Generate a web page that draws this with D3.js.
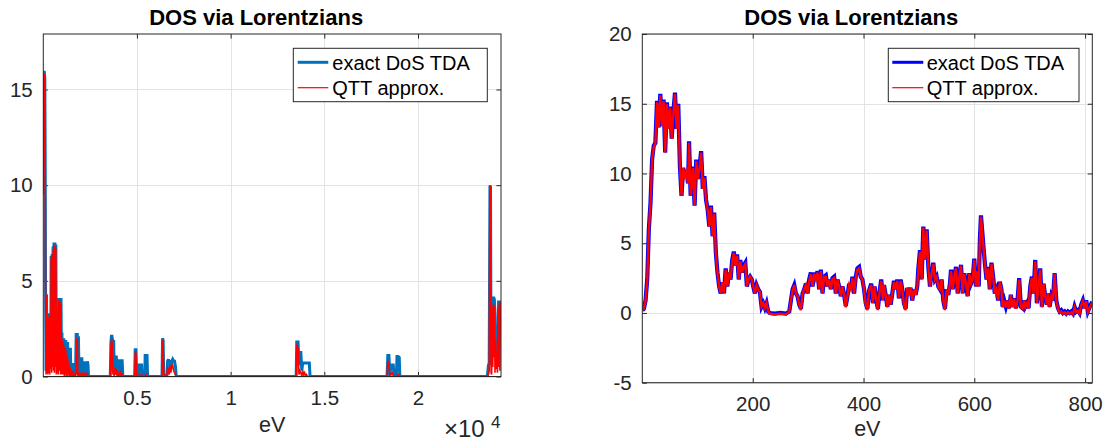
<!DOCTYPE html>
<html><head><meta charset="utf-8">
<script src="https://cdn.jsdelivr.net/npm/d3@7"></script>
<style>
body{margin:0;background:#fff}
svg{display:block}
text{font-family:"Liberation Sans",Arial,Helvetica,sans-serif}
</style>
</head><body>
<svg id="c" width="1111" height="441"></svg>
<script>
// ---------- DATA ----------
const chartTitle = "DOS via Lorentzians";
const xLabel = "eV";
const seriesNames = ["exact DoS TDA", "QTT approx."];

// Left panel (full energy range, eV)
const leftEnergy = [
  5,15,30,60,85,105,125,150,175,200,
  225,250,275,300,325,350,375,400,425,450,
  475,500,525,550,575,600,625,650,675,700,
  725,750,775,800,830,860,890,920,950,975,
  1000,1025,1050,1075,1100,1125,1150,1175,1200,1225,
  1250,1275,1300,1325,1350,1375,1400,1425,1450,1475,
  1500,1525,1550,1575,1600,1625,1650,1675,1700,1725,
  1760,1790,1820,1850,1880,1910,1950,1975,2000,2025,
  2060,2090,2120,2150,2180,2210,2240,2270,2300,2330,
  2360,2390,2420,2450,3560,
  3580,3610,3640,3670,3700,3730,3760,3790,3830,3860,
  3900,3940,3970,4010,4050,4090,4130,4170,4210,4250,
  4880,4910,4950,4990,5100,5130,5190,5250,5280,5420,
  5440,5490,5540,5570,
  6340,6370,6400,6430,6600,6640,6680,6720,6760,6810,
  6860,6910,6960,7010,7060,7100,
  13500,13530,13600,13650,13700,13750,13800,13850,13900,13950,
  14000,14050,14100,14150,14200,14240,
  18350,18390,18450,18500,18560,18620,18680,18730,18850,18880,
  18940,19000,19030,
  23700,23760,23800,23840,23870,23900,23930,23960,23990,24020,
  24050,24080,24110,24140,24170,24200,24240,24270,24300,24340,
  24370,24400,24430
];
const leftExact = [
  9.7,11.0,15.9,15.9,15.6,11.7,4.6,0.3,4.3,0.5,
  3.3,0.6,3.2,0.4,3.3,0.8,3.3,1.2,6.3,0.8,
  6.4,1.5,6.8,1.0,7.0,0.9,7.0,1.4,6.9,0.7,
  3.8,1.0,3.8,0.6,4.1,1.1,4.1,0.7,4.1,0.5,
  2.3,0.6,2.0,0.4,2.0,0.5,1.9,0.4,1.9,0.5,
  1.8,0.3,1.8,0.4,1.5,0.3,1.5,0.2,1.5,0.1,
  0.7,0.1,0.7,0.0,0.7,0.1,0.7,0.0,0.7,0.1,
  2.2,2.2,2.2,0.3,2.1,0.1,1.0,0.0,1.0,0.1,
  1.0,0.0,0.8,0.1,0.8,0.0,0.8,0.1,0.8,0.0,
  0.8,0.6,0.0,0,0,
  0,1.7,2.1,2.1,1.9,0.3,1.9,0.15,1.1,0.3,
  1.1,0.2,0.9,0.1,0.9,0.2,0.9,0.1,0.9,0,
  0,1.4,1.4,0.05,0,0.6,0.6,0.6,0,0,
  1.1,1.1,1.1,0,
  0,2.0,1.9,0.1,0,0.8,0.9,0.6,0.85,0.5,
  0.8,0.9,0.8,0.8,0.5,0,
  0,1.8,1.8,0.6,1.25,1.25,0.3,0.7,0.7,0.7,
  0.7,0.7,0.7,0.7,0.7,0,
  0,1.1,1.1,0.05,0.6,0.6,0.6,0,0,1.05,
  1.05,1.0,0,
  0,0.6,0.7,9.9,9.9,0.6,0.8,4.1,4.1,4.1,
  4.1,4.0,2.0,2.2,2.2,2.2,1.0,3.2,3.9,3.9,
  3.9,3.9,3.9
];
const leftQTT = [
  9.5,11.0,15.8,15.8,15.6,11.7,4.5,0.1,4.2,0.2,
  3.0,0.1,3.1,0.2,3.2,0.1,3.2,0.4,6.2,0.2,
  6.3,0.5,6.6,0.3,6.9,0.2,6.8,0.5,6.7,0.1,
  3.6,0.2,3.4,0.1,4.0,0.3,3.9,0.1,3.8,0.1,
  2.0,0.1,1.8,0.1,1.6,0.0,1.5,0.1,1.4,0.0,
  1.2,0.0,1.0,0.1,0.8,0.0,0.6,0.0,0.5,0.0,
  0.3,0.0,0.2,0.0,0.3,0.0,0.2,0.0,0.2,0.0,
  0.2,2.0,1.9,0.0,0.2,0.0,0.2,0.0,0.1,0.0,
  0.2,0.0,0.1,0.0,0.2,0.0,0.1,0.0,0.1,0.0,
  0.1,0.0,0.0,0,0,
  0,1.5,1.9,1.9,0.4,0.1,0.2,0,0.5,0.1,
  0.4,0,0.3,0,0.2,0,0.3,0,0.1,0,
  0,1.3,1.2,0,0,0.1,0.05,0.1,0,0,
  0.05,0.1,0.05,0,
  0,1.9,1.8,0.1,0,0.5,0.3,0.1,0.6,0.2,
  0.5,0.6,0.3,0.2,0.1,0,
  0,1.6,1.5,0.1,0.3,0.2,0,0.3,0.1,0.2,
  0,0.1,0,0,0,0,
  0,0.8,0.7,0,0.1,0.2,0.05,0,0,0.05,
  0.1,0.05,0,
  0,0.1,0.3,10.0,9.9,0.2,0.1,3.6,0.5,3.8,
  1.0,3.7,0.2,2.0,0.4,1.2,0.2,3.6,0.5,3.8,
  0.3,3.8,3.9
];
const leftXTicks = [5000, 10000, 15000, 20000];
const leftXTickLabels = ["0.5", "1", "1.5", "2"];
const leftYTicks = [0, 5, 10, 15];
const leftXDomain = [5, 24430];
const leftYDomain = [0, 17.9];

// Right panel (zoom 0-813 eV)
const rightEnergy = [
  0.7,3.5,6.6,9.6,12.5,15.5,18.4,21.4,24.3,27.3,
  30.2,33.2,36.1,39.1,42,45,47.9,50.9,53.8,56.8,
  59.7,62.7,65.6,68.6,71.5,74.5,77.4,80.4,83.3,85.1,
  88,92.2,95.1,98.1,101,104,106.9,109.9,112.8,115.8,
  118.7,121.7,124.6,127.6,130.5,133.5,136.4,139.4,142.3,145.3,
  148.2,151.2,154.1,157.1,160,163,165.9,168.9,171.8,174.8,
  177.7,180.7,183.6,186.6,189.5,192.5,195.4,198.4,201,204,
  207,210,213,216,219,222,225,228,231,240,
  250,260,266,269,272,275,278,281,284,287,
  290,293,296,299,302,305,308,311,314,317,
  320,323,326,329,332,335,338,341,344,347,
  350,353,356,359,362,365,368,371,374,377,
  380,383,386,389,392,395,398,401,404,407,
  410,414,417,420,423,426,429,432,435,437,
  440,443,446,449,452,455,458,461,464,467,
  470,473,476,479,482,485,488,491,494,497,
  499,502,505,508,511,514,517,520,523,526,
  529,532,535,538,541,544,547,550,553,556,
  558,561,564,567,570,573,576,579,582,585,
  588,591,594,597,600,603,606,608,610,612,
  614,616,619,622,625,628,631,634,637,640,
  643,646,649,651,654,657,660,663,666,669,
  672,675,678,681,684,687,690,692,695,698,
  701,704,707,710,713,716,719,722,725,728,
  731,733,736,739,742,745,748,751,754,757,
  760,763,766,769,772,775,778,781,784,787,
  790,793,796,799,802,805,809,813
];
const rightExact = [
  0.2,0.3,0.9,2.4,6.0,7.9,11.0,12.0,12.2,15.2,
  13.3,15.7,13.4,15.3,11.5,15.1,13.2,14.8,12.5,14.4,
  15.8,13.2,15.0,10.5,8.4,10.4,9.8,10.2,9.3,12.3,
  8.4,10.5,7.7,11.0,9.6,10.5,11.6,8.9,9.8,8.1,
  7.4,6.2,7.7,5.5,7.2,4.3,2.9,1.9,1.4,2.2,
  1.4,3.2,1.9,2.9,2.4,3.8,4.4,3.4,4.2,2.4,
  3.8,2.9,3.4,3.6,1.9,2.4,2.6,2.4,1.9,1.4,
  2.0,1.7,1.5,0.45,0.7,0.35,0.7,0.1,0,-0.05,
  0,-0.05,0.1,0.9,1.7,2.0,1.4,1.2,0.6,0.3,
  1.4,1.7,2.1,1.4,2.4,2.9,1.9,2.9,2.4,3.0,
  1.7,3.1,1.4,2.6,2.7,1.9,2.4,1.7,2.5,2.6,
  1.4,2.4,1.9,1.2,1.9,1.3,0.5,1.2,2.1,1.7,
  2.6,1.4,2.6,3.2,3.3,2.6,2.4,1.7,0.7,0.3,
  1.6,2.1,0.7,1.9,0.9,0.3,1.5,2.4,0.9,2.0,
  1.3,0.45,1.3,0.6,1.4,2.3,1.7,2.4,1.05,2.4,
  1.7,0.7,0.3,1.8,1.3,1.8,0.9,1.7,1.3,1.9,
  3.2,4.5,2.4,6.2,3.8,6.0,3.3,1.9,2.85,3.6,
  2.4,2.6,1.9,1.7,2.4,0.9,0.3,1.7,1.3,2.1,
  3.1,1.7,2.6,3.3,1.4,2.6,3.45,1.4,2.85,2.1,
  1.2,2.85,2.1,2.4,3.9,1.9,3.1,1.9,5.2,7.0,
  6.0,5.0,3.6,2.4,3.3,1.7,3.6,2.6,1.4,1.7,
  0.9,2.25,1.7,0.45,0.9,0.45,0.9,0.35,1.3,0.45,
  1.05,0.35,0.9,2.5,0.45,0.35,0.9,0.45,0.7,0.35,
  1.9,2.6,1.4,3.8,0.7,1.9,3.2,0.45,2.1,1.2,
  0.6,1.4,0.45,1.2,0.9,2.85,0.9,0.35,0.1,0.2,
  0,0.1,-0.05,0.1,0,0.1,-0.05,0.45,0.1,0.2,
  0,0.6,0.9,0.35,0.9,0.1,0.5,0.8
];
const rightQTT = [
  0.2,0.3,0.9,2.3,5.9,7.9,11.0,11.9,12.2,15.1,
  13.3,15.6,13.4,15.2,11.5,15.0,13.2,14.7,12.5,14.3,
  15.7,13.2,14.9,10.5,8.4,10.4,9.8,10.1,9.3,12.2,
  8.4,10.4,7.7,10.9,9.6,10.4,11.5,8.9,9.7,8.1,
  7.4,6.2,7.6,5.5,7.1,4.3,2.9,1.9,1.4,2.2,
  1.4,3.1,1.9,2.9,2.4,3.7,4.3,3.4,4.1,2.4,
  3.7,2.9,3.3,3.5,1.9,2.4,2.6,2.4,1.9,1.4,
  2.0,1.7,1.5,0.45,0.7,0.35,0.7,0.1,-0.05,-0.1,
  -0.05,-0.1,0.1,0.9,1.6,2.0,1.4,1.2,0.6,0.2,
  1.4,1.7,2.0,1.4,2.3,2.8,1.9,2.8,2.4,2.9,
  1.7,3.0,1.4,2.6,2.6,1.9,2.4,1.7,2.4,2.5,
  1.4,2.4,1.9,1.2,1.9,1.3,0.4,1.2,2.0,1.7,
  2.5,1.4,2.5,3.1,3.2,2.6,2.4,1.7,0.6,0.2,
  1.6,2.0,0.7,1.9,0.9,0.2,1.5,2.3,0.9,2.0,
  1.3,0.4,1.3,0.6,1.4,2.2,1.7,2.3,1.05,2.3,
  1.7,0.6,0.2,1.8,1.3,1.8,0.9,1.7,1.3,1.9,
  3.1,4.4,2.4,6.1,3.8,5.9,3.3,1.9,2.8,3.5,
  2.4,2.6,1.9,1.7,2.4,0.9,0.2,1.7,1.3,2.1,
  3.0,1.7,2.6,3.2,1.4,2.6,3.4,1.4,2.8,2.1,
  1.2,2.8,2.1,2.4,3.8,1.9,3.0,1.9,5.1,6.9,
  5.9,5.0,3.6,2.4,3.2,1.7,3.5,2.6,1.4,1.7,
  0.9,2.2,1.7,0.4,0.9,0.4,0.9,0.3,1.3,0.4,
  1.0,0.3,0.9,2.4,0.4,0.3,0.9,0.4,0.7,0.3,
  1.9,2.5,1.4,3.7,0.7,1.9,3.1,0.4,2.1,1.2,
  0.6,1.4,0.4,1.2,0.9,2.8,0.9,0.3,0.05,0.1,
  -0.05,0.05,-0.1,0.05,-0.05,0.05,-0.1,0.4,0.05,0.15,
  -0.05,0.55,0.85,0.3,0.85,0.05,0.45,0.75
];
const rightXTicks = [200, 400, 600, 800];
const rightXTickLabels = ["200", "400", "600", "800"];
const rightYTicks = [-5, 0, 5, 10, 15, 20];
const rightXDomain = [0.7, 813];
const rightYDomain = [-5, 20];

// ---------- DRAWING ----------
const svg = d3.select("#c");
const AX = "#262626";

function panel(o) {
  const g = svg.append("g");
  const x = d3.scaleLinear().domain(o.xDomain).range([o.left, o.right]);
  const y = d3.scaleLinear().domain(o.yDomain).range([o.bottom, o.top]);
  const W = o.right - o.left, H = o.bottom - o.top;
  const tl = 4.6;

  // grid
  g.append("g").selectAll("line").data(o.xTicks).join("line")
    .attr("x1", d => Math.round(x(d)) + 0.5).attr("x2", d => Math.round(x(d)) + 0.5)
    .attr("y1", o.top).attr("y2", o.bottom)
    .attr("stroke", "#e3e3e3").attr("stroke-width", 1);
  g.append("g").selectAll("line").data(o.yTicks).join("line")
    .attr("y1", d => Math.round(y(d)) + 0.5).attr("y2", d => Math.round(y(d)) + 0.5)
    .attr("x1", o.left).attr("x2", o.right)
    .attr("stroke", "#e3e3e3").attr("stroke-width", 1);

  // axes with ticks inside
  const fs = "20.5px";
  const ax = (gen, tx, ty, labels) => {
    const a = g.append("g").attr("transform", `translate(${tx},${ty})`).call(gen);
    a.select(".domain").remove();
    a.selectAll("line").attr("stroke", AX);
    a.selectAll("text").attr("fill", AX).style("font-size", fs)
      .style("font-family", '"Liberation Sans",Arial,Helvetica,sans-serif');
    if (!labels) a.selectAll("text").remove();
    return a;
  };
  ax(d3.axisBottom(x).tickValues(o.xTicks).tickFormat((d, i) => o.xLabels[i])
      .tickSizeInner(-tl).tickSizeOuter(0).tickPadding(14), 0, o.bottom, true);
  ax(d3.axisTop(x).tickValues(o.xTicks).tickSizeInner(-tl).tickSizeOuter(0), 0, o.top, false);
  ax(d3.axisLeft(y).tickValues(o.yTicks).tickFormat(d => String(d))
      .tickSizeInner(-tl).tickSizeOuter(0).tickPadding(10.6), o.left, 0, true);
  ax(d3.axisRight(y).tickValues(o.yTicks).tickSizeInner(-tl).tickSizeOuter(0), o.right, 0, false);

  // data
  const clipId = "clip" + o.id;
  svg.append("clipPath").attr("id", clipId).append("rect")
    .attr("x", o.left).attr("y", o.top).attr("width", W).attr("height", H);
  const line = d3.line().x((d, i) => x(o.energy[i])).y(d => y(d));
  const dg = g.append("g").attr("clip-path", `url(#${clipId})`);
  dg.append("path").datum(o.exact).attr("d", line).attr("fill", "none")
    .attr("stroke", o.blue).attr("stroke-width", o.blueW).attr("stroke-linejoin", "miter");
  dg.append("path").datum(o.qtt).attr("d", line).attr("fill", "none")
    .attr("stroke", "#ff0000").attr("stroke-width", o.redW).attr("stroke-linejoin", "miter");

  // box
  g.append("rect").attr("x", o.left).attr("y", o.top).attr("width", W).attr("height", H)
    .attr("fill", "none").attr("stroke", AX).attr("stroke-width", 1);

  // title
  g.append("text").attr("x", (o.left + o.right) / 2 - 16).attr("y", 25)
    .attr("text-anchor", "middle").style("font-size", "22px").style("font-weight", "bold")
    .attr("fill", "#000").text(chartTitle);
  // x label
  g.append("text").attr("x", (o.left + o.right) / 2).attr("y", o.labelY)
    .attr("text-anchor", "middle").style("font-size", "21.5px").attr("fill", AX).text(xLabel);

  // legend
  const L = o.legend;
  const lg = g.append("g");
  lg.append("rect").attr("x", L.x).attr("y", L.y).attr("width", L.w).attr("height", L.h)
    .attr("fill", "#fff").attr("stroke", AX).attr("stroke-width", 1);
  const rows = [{c: o.blue, w: o.legBlueW}, {c: "#ff0000", w: 1.2}];
  rows.forEach((r, i) => {
    const yy = L.y + 14 + i * 25.4;
    lg.append("line").attr("x1", L.lx0).attr("x2", L.lx1).attr("y1", yy).attr("y2", yy)
      .attr("stroke", r.c).attr("stroke-width", r.w);
    lg.append("text").attr("x", L.tx).attr("y", yy + 7.3).style("font-size", "20px")
      .attr("fill", "#000").text(seriesNames[i]);
  });
  return {x, y, g};
}

const left = panel({
  id: "L", left: 43.3, right: 501, top: 34, bottom: 376.5, labelY: 432,
  xDomain: leftXDomain, yDomain: leftYDomain,
  xTicks: leftXTicks, xLabels: leftXTickLabels, yTicks: leftYTicks,
  energy: leftEnergy, exact: leftExact, qtt: leftQTT,
  blue: "#0072bd", blueW: 3, redW: 1.6, legBlueW: 3,
  legend: {x: 293.3, y: 48.3, w: 194, h: 53.4, lx0: 297.7, lx1: 328.3, tx: 332.3}
});
const right = panel({
  id: "R", left: 642.3, right: 1092.3, top: 34, bottom: 382.7, labelY: 436,
  xDomain: rightXDomain, yDomain: rightYDomain,
  xTicks: rightXTicks, xLabels: rightXTickLabels, yTicks: rightYTicks,
  energy: rightEnergy, exact: rightExact, qtt: rightQTT,
  blue: "#0000ff", blueW: 4.2, redW: 2.4, legBlueW: 3,
  legend: {x: 888.3, y: 48.3, w: 190.7, h: 53.4, lx0: 892.3, lx1: 923.3, tx: 926.7}
});

// x10^4 exponent marker for the left panel
left.g.append("text").attr("x", 444).attr("y", 437)
  .style("font-size", "24px").attr("fill", AX).text("\u00d710");
left.g.append("text").attr("x", 491).attr("y", 428)
  .style("font-size", "17px").attr("fill", AX).text("4");
</script>
</body></html>
